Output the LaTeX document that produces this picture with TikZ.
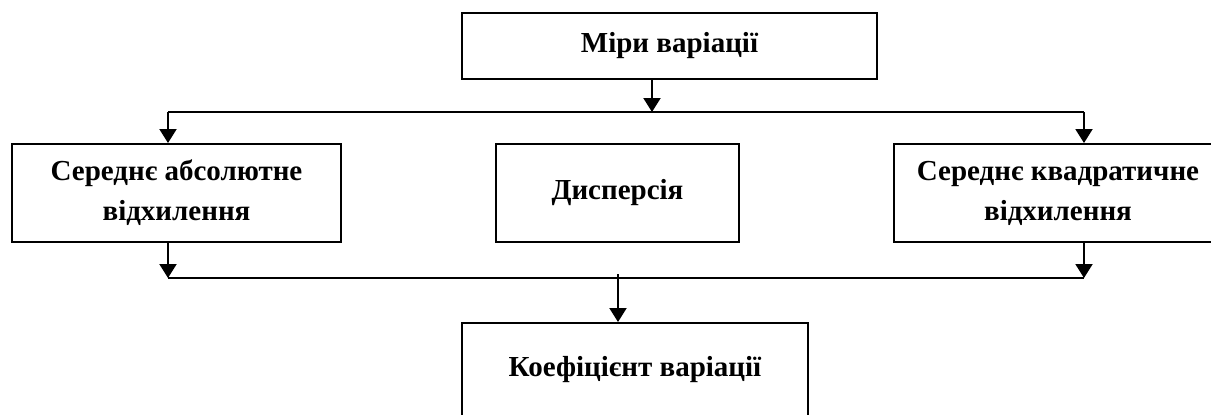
\documentclass[tikz,border=0pt]{standalone}
\usepackage{fontspec}
\setmainfont{Liberation Serif}
\usepackage{tikz}
\usetikzlibrary{arrows.meta,positioning}
\tikzstyle{box} = [rectangle, draw=black, line width=0.04cm, align=center, text centered, font=\fontsize{16.5}{22.8}\selectfont\bfseries, inner sep=0pt]
\tikzstyle{arrow} = [line width=0.04cm,-{Triangle[length=0.28cm,width=0.34cm]}]
\tikzstyle{bus} = [line width=0.04cm]

\begin{document}
\begin{tikzpicture}[x=0.02cm,y=-0.02cm]
\path[use as bounding box, clip] (0,0) rectangle (1211,414);
\node[box, minimum width=8.3cm, minimum height=1.32cm] (miry) at (669.5,46) {Міри варіації};
\node[box, minimum width=6.58cm, minimum height=1.96cm] (sav) at (176.5,193) {Середнє абсолютне\\відхилення};
\node[box, minimum width=4.86cm, minimum height=1.96cm] (disp) at (617.5,193) {Дисперсія};
\node[box, minimum width=6.56cm, minimum height=1.96cm] (skv) at (1058,193) {Середнє квадратичне\\відхилення};
\node[box, minimum width=6.92cm, minimum height=1.88cm] (kv) at (635,370) {Коефіцієнт варіації};
% upper bus
\coordinate (t1) at (652,112);
\coordinate (tl) at (168,112);
\coordinate (tr) at (1084,112);
\draw[arrow] (miry.south -| t1) -- (t1);
\draw[bus] (tl) -- (tr);
\draw[arrow] (tl) -- (tl |- sav.north);
\draw[arrow] (tr) -- (tr |- skv.north);
% lower bus
\coordinate (bl) at (168,278);
\coordinate (br) at (1084,278);
\coordinate (b1) at (618,274);
\draw[arrow] (sav.south -| bl) -- (bl);
\draw[arrow] (skv.south -| br) -- (br);
\draw[bus] (bl) -- (br);
\draw[arrow] (b1) -- (b1 |- kv.north);
\end{tikzpicture}
\end{document}
